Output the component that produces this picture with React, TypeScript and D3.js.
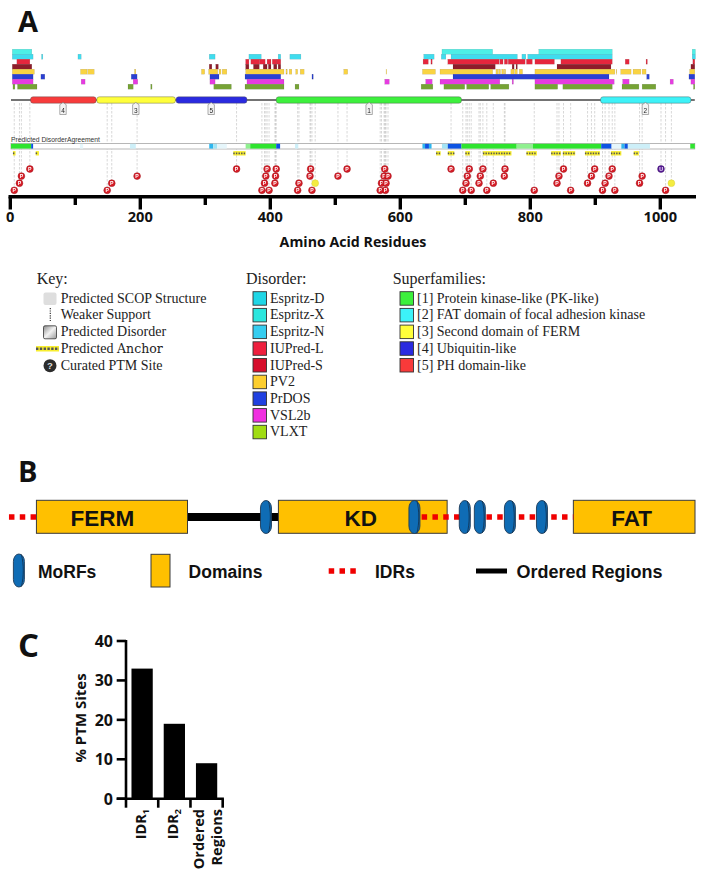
import React from "react";
import * as d3 from "d3";

type Seg = [number, number];

// ---- Panel A: residue ranges per predictor
const espD: Seg[] = [[2,32],[663,741],[812,925],[1048,1053]];
const espX: Seg[] = [[2,34],[47,49],[103,108],[305,314],[366,385],[411,415],[429,446],[635,651],[662,669],[677,779],[786,792],[795,925],[1048,1053]];
const iuL: Seg[] = [[9,29],[361,366],[369,382],[382,391],[394,400],[402,409],[409,415],[634,642],[646,648],[672,751],[752,757],[759,764],[765,791],[793,802],[806,836],[846,925],[945,951],[977,979],[1049,1052]];
const iuS: Seg[] = [[2,32],[305,309],[315,319],[361,366],[373,382],[388,394],[396,400],[404,409],[411,415],[680,745],[771,774],[777,779],[840,923],[1046,1052]];
const pv2: Seg[] = [[2,36],[107,117],[118,128],[190,192],[293,298],[304,318],[320,323],[325,332],[361,420],[423,425],[428,432],[438,441],[445,451],[512,518],[577,578],[633,653],[660,741],[746,749],[750,753],[755,758],[759,761],[769,774],[775,779],[782,787],[806,929],[931,932],[938,954],[957,969],[971,977],[1044,1052]];
const prdos: Seg[] = [[2,34],[46,52],[185,194],[306,320],[360,415],[463,465],[680,920],[978,982],[1043,1052]];
const vsl2b: Seg[] = [[2,34],[108,114],[188,195],[306,314],[363,420],[575,582],[638,648],[660,752],[771,773],[806,928],[941,951],[1014,1019],[1046,1052]];
const vlxt: Seg[] = [[3,6],[10,40],[180,188],[215,217],[312,339],[360,420],[437,443],[631,649],[666,698],[701,735],[738,766],[806,841],[849,925],[940,966],[971,992],[1050,1052]];
const trackColors = ["#4defe6","#3fdcee","#e5283c","#8e1c2a","#f9d342","#2a3fd2","#e63be0","#76a336"];
const tracks = [espD, espX, iuL, iuS, pv2, prdos, vsl2b, vlxt];

const superfamilyStarts = [30,132,254,408,907];
const superfamilyEnds = [131,253,363,693,1046];
const superfamilyLabels = ["4","3","5","1","2"];
const superfamilyCallouts = [80,192,308,551,976];
const superfamilyFill = ["#f83a3a","#ffff3a","#2a2ae0","#3cf03c","#3cf2f8"];

const agreementStart = [0,31,106,183,305,311,317,361,368,408,437,633,637,643,663,672,693,778,803,908,924,939,944,949,1045];
const agreementEnd = [31,34,111,192,311,317,332,368,408,414,442,637,643,647,672,693,778,803,908,924,939,944,949,983,1052];
const agreementScore = [1,.7,.1,.2,.5,.4,.1,.9,1,.7,.15,.5,.7,.5,.4,.7,1,.85,1,.7,.05,.5,.7,.15,1];

const anchors: Seg[] = [[3,7],[38,43],[342,361],[654,661],[672,682],[699,706],[726,770],[793,809],[831,846],[849,868],[883,906],[923,939],[958,966]];

const ptmRow0 = [29,347,394,408,461,517,575,677,705,726,760,850,898,925];
const ptmRow1 = [16,194,392,407,460,503,574,580,702,722,759,843,893,920,971];
const ptmRow2 = [13,155,390,406,443,570,577,700,720,742,840,887,914,967];
const ptmRow3 = [5,148,386,397,441,463,568,576,695,708,732,805,861,910,929,1007];
const ptmRows = [ptmRow0, ptmRow1, ptmRow2, ptmRow3];
const ubiquitinSite = [1000];
const otherSites = [468,1016];

const axisTicks = [0,100,200,300,400,500,600,700,800,900,1000];

const disorderNames = ["Espritz-D","Espritz-X","Espritz-N","IUPred-L","IUPred-S","PV2","PrDOS","VSL2b","VLXT"];
const disorderColors = ["#1fd6e6","#2be6de","#35cdf0","#ee1f3e","#d60e2c","#fdce2e","#2040e0","#f02fe0","#a0dc12"];
const familyNames = ["[1] Protein kinase-like (PK-like)","[2] FAT domain of focal adhesion kinase","[3] Second domain of FERM","[4] Ubiquitin-like","[5] PH domain-like"];
const familyColors = ["#3cf03c","#3cf2f8","#ffff3a","#2a2ae0","#f83a3a"];
const keyNames = ["Predicted SCOP Structure","Weaker Support","Predicted Disorder","Predicted ","Curated PTM Site"];

// ---- Panel B
const bDomainNames = ["FERM","KD","FAT"];
const bDomainStart = [45,415,866];
const bDomainEnd = [276,673,1052];
const bLabelAt = [146,541,955];
const bOrdered: Seg[] = [[276,415]];
const bIDRs: Seg[] = [[3,45],[634,866]];
const bMoRFs = [396,623,700,723,769,818];

// ---- Panel C
const cCategories = ["IDR1","IDR2","Ordered Regions"];
const cValues = [33,19,9];
const cTicks = [0,10,20,30,40];

const SANS = "'Liberation Sans', Arial, sans-serif";
const BOLD = "'Open Sans', sans-serif";
const SERIF = "'Liberation Serif', serif";

function MoRF({cx,cy}:{cx:number;cy:number}) {
  return (
    <g transform={`translate(${cx},${cy})`}>
      <rect x={-5.5} y={-16.5} width={11} height={33} rx={5.5} ry={7.5} fill="#0f6cb5" stroke="#1c3a58" strokeWidth={.9}/>
      <path d="M2.5,-16C5,-6 5,6 2.5,16" fill="none" stroke="#12304e" strokeWidth={.8}/>
    </g>
  );
}

export default function App() {
  const x = d3.scaleLinear().domain([0,1000]).range([11,661]);
  const axisX = d3.scaleLinear().domain([0,1000]).range([10.3,660.3]);
  const trackY = d3.scaleBand<number>().domain(d3.range(8)).range([49.2,89.2]);
  const rowY = d3.scalePoint<number>().domain([0,1,2,3]).range([169,190.3]);
  const agreementColor = d3.scaleThreshold<number,string>().domain([.12,.3,.45,.6,.8,.95]).range(["#e6f6fb","#cdeff8","#a4e4f4","#2db6ee","#0f52e2","#8ff08f","#2fe42f"]);
  const bx = d3.scaleLinear().domain([0,1052]).range([7,695]);
  const cy = d3.scaleLinear().domain([0,40]).range([798.7,641]);
  const cx = d3.scaleBand<string>().domain(cCategories).range([126,222.7]).paddingInner(.34).paddingOuter(.17);
  const legendY = d3.scaleLinear().domain([0,1]).range([302.7,319.4]);

  const pins = ptmRows.flatMap((r,i)=>r.map(v=>({v,y:rowY(i)!,c:"#d81e28",s:"#9a1018",t:"P",tc:"#fff"})))
    .concat(ubiquitinSite.map(v=>({v,y:rowY(0)!,c:"#5a1a9a",s:"#30085c",t:"U",tc:"#fff"})))
    .concat(otherSites.map(v=>({v,y:rowY(2)!,c:"#f4ec40",s:"#d8d040",t:"",tc:"#333"})));

  const dashes = (a:number,b:number,step:number,len:number)=>d3.range(a,b,step).map(v=>`M${v},0h${len}`).join("");

  return (
    <svg width={704} height={874} style={{position:"absolute",left:0,top:0,background:"#fff"}}>
      <text x={18} y={31.5} fontFamily={BOLD} fontWeight={700} fontSize={29} fill="#111">A</text>

      <g filter="url(#soft)">
        <defs>
          <filter id="soft" x="-2%" y="-2%" width="104%" height="104%"><feGaussianBlur stdDeviation="0.4"/></filter>
          <linearGradient id="swg" x1="0" y1="0" x2="1" y2="1"><stop offset="0" stopColor="#8a8a8a"/><stop offset="0.5" stopColor="#f2f2f2"/><stop offset="1" stopColor="#999"/></linearGradient>
        </defs>
        {tracks.map((t,i)=>t.map((s,j)=>(
          <rect key={i+"-"+j} x={x(s[0])} y={trackY(i)!} width={x(s[1])-x(s[0])} height={trackY.bandwidth()} fill={trackColors[i]} stroke="#000" strokeOpacity={.2} strokeWidth={.4}/>
        )))}

        {/* dashed drop lines */}
        {pins.map((p,i)=>(
          <line key={i} x1={x(p.v)} x2={x(p.v)} y1={103} y2={p.y} stroke="#bdbdbd" strokeWidth={.6} strokeDasharray="2.5 1.5"/>
        ))}

        <line x1={x(0)} x2={x(1052)} y1={100} y2={100} stroke="#444" strokeWidth={1.3}/>
        {superfamilyStarts.map((s,i)=>(
          <rect key={i} x={x(s)} y={96.8} width={x(superfamilyEnds[i])-x(s)} height={6.4} rx={2.5} fill={superfamilyFill[i]} stroke="#555" strokeOpacity={.7} strokeWidth={.6}/>
        ))}
        {superfamilyCallouts.map((c,i)=>(
          <g key={i} transform={`translate(${x(c)},102.5)`}>
            <path d="M0,0L3.2,2.2V12H-3.2V2.2Z" fill="#f4f4f4" stroke="#777" strokeWidth={.6}/>
            <text y={10} textAnchor="middle" fontFamily={SANS} fontSize={6.5} fill="#222">{superfamilyLabels[i]}</text>
          </g>
        ))}

        <rect x={x(0)} y={143.4} width={x(1052)-x(0)} height={5.6} fill="#fff" stroke="#999" strokeWidth={.7}/>
        {agreementStart.map((s,i)=>(
          <rect key={i} x={x(s)} y={143.8} width={x(agreementEnd[i])-x(s)} height={4.8} fill={agreementColor(agreementScore[i])}/>
        ))}

        {anchors.map((a,i)=>(
          <g key={i} transform={`translate(${x(a[0])},153.3)`}>
            <rect y={-2.2} width={x(a[1])-x(a[0])} height={4.4} fill="#f8ee30"/>
            <path d={dashes(0,x(a[1])-x(a[0])-1,2.6,1.4)} stroke="#555" strokeWidth={1.8}/>
          </g>
        ))}

        {pins.map((p,i)=>(
          <g key={i} transform={`translate(${x(p.v)},${p.y})`}>
            <circle r={3.4} fill={p.c} stroke={p.s} strokeWidth={.5}/>
            <text y={1.9} textAnchor="middle" fontFamily={SANS} fontWeight={700} fontSize={5.2} fill={p.tc}>{p.t}</text>
          </g>
        ))}
      </g>

      <text x={11} y={142} fontFamily={SANS} fontSize={6.3} fill="#333" textLength={89} lengthAdjust="spacingAndGlyphs">Predicted DisorderAgreement</text>

      {/* residue axis */}
      <line x1={8.5} x2={696} y1={196.7} y2={196.7} stroke="#000" strokeWidth={3.6}/>
      {axisTicks.map((t,i)=>(
        <line key={t} x1={axisX(t)} x2={axisX(t)} y1={196.7} y2={i%2===0?209.5:205} stroke="#000" strokeWidth={3.4}/>
      ))}
      {axisTicks.filter((_,i)=>i%2===0).map(t=>(
        <text key={t} x={axisX(t)} y={221.7} textAnchor="middle" fontFamily={BOLD} fontWeight={700} fontSize={14.6} fill="#111">{t}</text>
      ))}
      <text x={353} y={246.7} textAnchor="middle" fontFamily={BOLD} fontWeight={700} fontSize={14.2} fill="#111">Amino Acid Residues</text>

      {/* key */}
      <g fontFamily={SERIF} fill="#222">
        <text x={36.7} y={284} fontSize={16}>Key:</text>
        {keyNames.map((n,i)=>(
          <text key={n} x={60.7} y={legendY(i)} fontSize={14}>{n}{i===3 && <tspan fontFamily="'DejaVu Serif', serif" fontSize={12.5}>Anchor</tspan>}</text>
        ))}
        <rect x={43.5} y={292.5} width={13} height={12.5} rx={2} fill="#dedede"/>
        <line x1={50.3} x2={50.3} y1={308} y2={321} stroke="#333" strokeWidth={1.2} strokeDasharray="1.2 1.2"/>
        <rect x={43.5} y={325.8} width={13} height={13} rx={1.5} fill="url(#swg)" stroke="#333" strokeWidth={.8}/>
        <rect x={36} y={346} width={23} height={5.5} fill="#f8ee30"/>
        <line x1={36} x2={59} y1={348.8} y2={348.8} stroke="#555" strokeWidth={2.4} strokeDasharray="2.4 1.4"/>
        <circle cx={50} cy={365.7} r={6.5} fill="#2c2c2c"/>
        <text x={50} y={369.3} textAnchor="middle" fontFamily={SANS} fontWeight={700} fontSize={9.5} fill="#ddd">?</text>

        <text x={246} y={284} fontSize={16}>Disorder:</text>
        {disorderNames.map((n,i)=>(
          <g key={n}>
            <rect x={253} y={legendY(i)-11} width={13.5} height={13.5} fill={disorderColors[i]} stroke="#333" strokeWidth={.9}/>
            <text x={270} y={legendY(i)} fontSize={14}>{n}</text>
          </g>
        ))}

        <text x={392.7} y={284} fontSize={16}>Superfamilies:</text>
        {familyNames.map((n,i)=>(
          <g key={n}>
            <rect x={400} y={legendY(i)-11} width={13.5} height={13.5} fill={familyColors[i]} stroke="#333" strokeWidth={.9}/>
            <text x={417} y={legendY(i)} fontSize={14}>{n}</text>
          </g>
        ))}
      </g>

      {/* Panel B */}
      <text x={18} y={482} fontFamily={BOLD} fontWeight={700} fontSize={29} fill="#111">B</text>
      {bOrdered.map((s,i)=>(
        <line key={i} x1={bx(s[0])} x2={bx(s[1])} y1={517} y2={517} stroke="#000" strokeWidth={8}/>
      ))}
      {bDomainNames.map((n,i)=>(
        <g key={n}>
          <rect x={bx(bDomainStart[i])} y={500.3} width={bx(bDomainEnd[i])-bx(bDomainStart[i])} height={33} fill="#ffc000" stroke="#3a3a3a" strokeWidth={1}/>
          <text x={bx(bLabelAt[i])} y={525.5} textAnchor="middle" fontFamily={SANS} fontWeight={700} fontSize={22.5} fill="#111">{n}</text>
        </g>
      ))}
      {bIDRs.map((s,i)=>(
        <line key={i} x1={bx(s[0])} x2={bx(s[1])} y1={517} y2={517} stroke="#f00000" strokeWidth={5.5} strokeDasharray="5.5 5.3"/>
      ))}
      {bMoRFs.map((m,i)=>(<MoRF key={i} cx={bx(m)} cy={517}/>))}
      <MoRF cx={18.9} cy={570.5}/>
      <text x={38} y={577.5} fontFamily={SANS} fontWeight={700} fontSize={17.5} fill="#111">MoRFs</text>
      <rect x={151} y={554.3} width={19} height={32.7} fill="#ffc000" stroke="#3a3a3a" strokeWidth={1}/>
      <text x={188.6} y={577.5} fontFamily={SANS} fontWeight={700} fontSize={17.5} fill="#111">Domains</text>
      <line x1={328.7} x2={357} y1={571} y2={571} stroke="#f00000" strokeWidth={5.5} strokeDasharray="5.5 5.3"/>
      <text x={375} y={577.5} fontFamily={SANS} fontWeight={700} fontSize={17.5} fill="#111">IDRs</text>
      <line x1={476} x2={507} y1={571} y2={571} stroke="#000" strokeWidth={5}/>
      <text x={516.4} y={577.5} fontFamily={SANS} fontWeight={700} fontSize={18} fill="#111">Ordered Regions</text>

      {/* Panel C */}
      <text x={18} y={657} fontFamily={BOLD} fontWeight={700} fontSize={33} fill="#111">C</text>
      {cCategories.map((c,i)=>(
        <rect key={c} x={cx(c)} y={cy(cValues[i])} width={cx.bandwidth()} height={cy(0)-cy(cValues[i])} fill="#000"/>
      ))}
      <line x1={126} x2={126} y1={640} y2={807.7} stroke="#000" strokeWidth={2.6}/>
      <line x1={116.7} x2={223.9} y1={798.7} y2={798.7} stroke="#000" strokeWidth={2.6}/>
      {cTicks.map(t=>(
        <g key={t}>
          <line x1={116.7} x2={126} y1={cy(t)} y2={cy(t)} stroke="#000" strokeWidth={2.6}/>
          <text x={113} y={cy(t)+6} textAnchor="end" fontFamily={BOLD} fontWeight={700} fontSize={16} fill="#111">{t}</text>
        </g>
      ))}
      {d3.range(1,4).map(i=>{
        const tx = 126 + i*(222.7-126)/3;
        return <line key={i} x1={tx} x2={tx} y1={798.7} y2={807.7} stroke="#000" strokeWidth={2.6}/>;
      })}
      <text transform="translate(85.5,718) rotate(-90)" textAnchor="middle" fontFamily={BOLD} fontWeight={700} fontSize={15} fill="#111">% PTM Sites</text>
      <text transform="translate(146,809) rotate(-90)" textAnchor="end" fontFamily={BOLD} fontWeight={700} fontSize={14.5} fill="#111">IDR<tspan fontSize={9} dy={3}>1</tspan></text>
      <text transform="translate(178,809) rotate(-90)" textAnchor="end" fontFamily={BOLD} fontWeight={700} fontSize={14.5} fill="#111">IDR<tspan fontSize={9} dy={3}>2</tspan></text>
      <text transform="translate(204,809) rotate(-90)" textAnchor="end" fontFamily={BOLD} fontWeight={700} fontSize={14.5} fill="#111">Ordered</text>
      <text transform="translate(221.7,809) rotate(-90)" textAnchor="end" fontFamily={BOLD} fontWeight={700} fontSize={14.5} fill="#111">Regions</text>
    </svg>
  );
}
